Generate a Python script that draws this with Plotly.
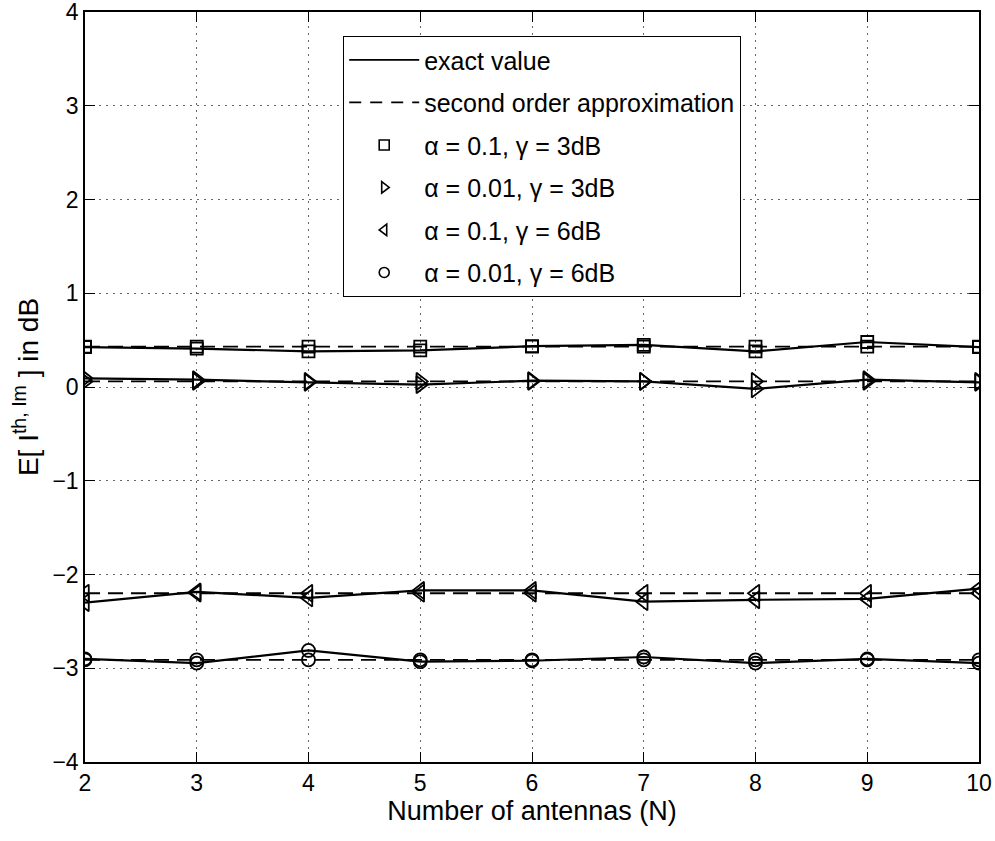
import plotly.graph_objects as go

N = [2, 3, 4, 5, 6, 7, 8, 9, 10]

# exact values (dB)
exact_a01_g3 = [0.425, 0.41, 0.38, 0.39, 0.435, 0.45, 0.38, 0.48, 0.425]
exact_a001_g3 = [0.093, 0.078, 0.05, 0.025, 0.067, 0.06, -0.02, 0.078, 0.05]
exact_a01_g6 = [-2.30, -2.185, -2.25, -2.17, -2.17, -2.29, -2.27, -2.26, -2.15]
exact_a001_g6 = [-2.90, -2.945, -2.81, -2.93, -2.92, -2.88, -2.945, -2.90, -2.945]

# second order approximation (dB)
approx_a01_g3 = [0.43, 0.43, 0.43, 0.43, 0.43, 0.43, 0.43, 0.43, 0.43]
approx_a001_g3 = [0.06, 0.06, 0.06, 0.06, 0.06, 0.06, 0.06, 0.06, 0.06]
approx_a01_g6 = [-2.20, -2.20, -2.20, -2.20, -2.20, -2.20, -2.20, -2.20, -2.20]
approx_a001_g6 = [-2.91, -2.91, -2.91, -2.91, -2.91, -2.91, -2.91, -2.91, -2.91]

series_labels = ["α = 0.1, γ = 3dB", "α = 0.01, γ = 3dB",
                 "α = 0.1, γ = 6dB", "α = 0.01, γ = 6dB"]
symbols = ["square-open", "triangle-right-open", "triangle-left-open", "circle-open"]
marker_sizes = [12, 15, 15, 13]

exact_all = [exact_a01_g3, exact_a001_g3, exact_a01_g6, exact_a001_g6]
approx_all = [approx_a01_g3, approx_a001_g3, approx_a01_g6, approx_a001_g6]

FONT = "Liberation Sans, Arial, Helvetica, sans-serif"

fig = go.Figure()

# legend entries first (so group order is correct)
fig.add_trace(go.Scatter(x=[None], y=[None], mode="lines", name="exact value",
                         legendgroup="g1",
                         line=dict(color="black", width=1.8)))
fig.add_trace(go.Scatter(x=[None], y=[None], mode="lines", name="second order approximation",
                         legendgroup="g2",
                         line=dict(color="black", width=1.8, dash="12px,9px")))
for i, (lab, sym) in enumerate(zip(series_labels, symbols)):
    fig.add_trace(go.Scatter(x=[None], y=[None], mode="markers", name=lab,
                             legendgroup="m%d" % i,
                             marker=dict(symbol=sym, size=10, color="black",
                                         line=dict(color="black", width=1.6))))

for ex, ap, sym, ms in zip(exact_all, approx_all, symbols, marker_sizes):
    fig.add_trace(go.Scatter(
        x=N, y=ap, mode="lines+markers", showlegend=False, legendgroup="data",
        line=dict(color="black", width=1.8, dash="15px,8px"),
        marker=dict(symbol=sym, size=ms, color="black", line=dict(color="black", width=1.8)),
    ))
    fig.add_trace(go.Scatter(
        x=N, y=ex, mode="lines+markers", showlegend=False, legendgroup="data",
        line=dict(color="black", width=2.2),
        marker=dict(symbol=sym, size=ms, color="black", line=dict(color="black", width=1.8)),
    ))

axis_common = dict(
    showline=True, linecolor="black", linewidth=1.5, mirror="ticks",
    ticks="inside", ticklen=10, tickwidth=1, tickcolor="black",
    showgrid=True, gridcolor="#666666", griddash="2px,5px", gridwidth=1,
    zeroline=False, automargin=False, ticklabeloverflow="allow",
    tickfont=dict(family=FONT, size=23, color="black"),
)

fig.update_layout(
    width=995, height=841,
    margin=dict(l=85, r=16, t=12, b=79),
    paper_bgcolor="white", plot_bgcolor="white",
    font=dict(family=FONT, color="black"),
    xaxis=dict(range=[2, 10], tickvals=[2, 3, 4, 5, 6, 7, 8, 9, 10],
               title=dict(text="Number of antennas (N)", font=dict(family=FONT, size=27), standoff=6),
               **axis_common),
    yaxis=dict(range=[-4, 4], tickvals=[-4, -3, -2, -1, 0, 1, 2, 3, 4],
               ticktext=["\u22124", "\u22123", "\u22122", "\u22121", "0", "1", "2", "3", "4"],
               title=dict(text="E[ I<sup>th, Im</sup> ] in dB", font=dict(family=FONT, size=28), standoff=6),
               **axis_common),
    legend=dict(x=0.2886, y=0.968, xanchor="left", yanchor="top",
                bgcolor="white", bordercolor="black", borderwidth=1.2,
                font=dict(family=FONT, size=25, color="black"),
                itemwidth=70, tracegroupgap=7,
                traceorder="grouped"),
)

fig.write_html("out.html")
